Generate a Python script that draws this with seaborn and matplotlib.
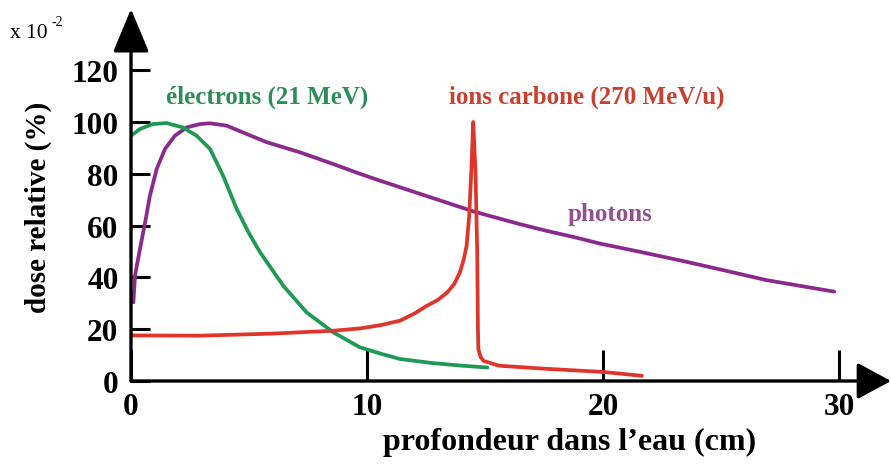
import numpy as np
import pandas as pd
import matplotlib
matplotlib.use("Agg")
import matplotlib.pyplot as plt
import seaborn as sns

# ---- data ----
photon_x = [0.1, 0.17, 0.38, 0.6, 0.8, 1.09, 1.44, 1.86, 2.36, 2.92, 3.35, 4.05, 4.6,
            5.75, 7.16, 8.56, 9.7, 10.5, 11.5, 12.5, 13.5, 14.5, 15.5, 16.5, 17.6,
            18.8, 19.9, 21.5, 23.3, 25.0, 26.9, 28.5, 29.8]
photon_y = [30.4, 40.7, 51, 61.3, 71.5, 81.9, 89.6, 94.7, 97.9, 99.2, 99.5, 98.6, 96.5,
            92.2, 88.3, 83.8, 80, 77.5, 74.5, 71.5, 68.5, 65.5, 63, 60.5, 58,
            55.5, 53, 50, 46.5, 43, 39, 36.5, 34.5]

electron_x = [0, 0.38, 0.93, 1.5, 2.2, 2.78, 3.35, 3.9, 4.48, 5.0, 5.47, 6.45, 7.44,
              8.57, 9.7, 10.6, 11.4, 12.7, 13.9, 15.1]
electron_y = [94.7, 97.3, 99.2, 99.6, 97.9, 94.7, 89.6, 79.3, 66.4, 57, 49.7, 36.8, 26.5,
              18.8, 13, 10.5, 8.5, 7.0, 6.0, 5.2]

carbon_x = [0, 2.92, 6, 8.56, 9.7, 10.6, 11.4, 12.0, 12.53, 13.0, 13.4, 13.7, 13.94,
            14.1, 14.22, 14.33, 14.43, 14.5, 14.6, 14.67, 14.7, 14.72, 14.8, 14.93,
            15.6, 17.6, 19, 20, 21.65]
carbon_y = [17.6, 17.5, 18.3, 19.4, 20.3, 21.6, 23.3, 26, 29, 31.3, 34.2, 37.5, 42,
            47, 52.2, 63.8, 83, 100, 80, 50, 20, 12.4, 9.5, 7.8,
            5.9, 4.7, 4, 3.5, 2]

x_ticks = [0, 10, 20, 30]
y_ticks = [0, 20, 40, 60, 80, 100, 120]

series_names = ["photons", "électrons (21 MeV)", "ions carbone (270 MeV/u)"]
series_colors = ["#8a2a8c", "#1f9a55", "#e0352a"]
text_colors = ["#93508f", "#2e8b5a", "#c8402f"]

df = pd.concat([
    pd.DataFrame({"x": photon_x, "y": photon_y, "s": series_names[0]}),
    pd.DataFrame({"x": electron_x, "y": electron_y, "s": series_names[1]}),
    pd.DataFrame({"x": carbon_x, "y": carbon_y, "s": series_names[2]}),
])

sns.set_theme(style="white")
plt.rcParams["font.family"] = ["Liberation Serif", "DejaVu Serif"]

W, H = 891, 477
fig = plt.figure(figsize=(W / 100, H / 100), dpi=100)
left, bottom = 131, H - 382
ax = fig.add_axes([left / W, bottom / H, (891 - left) / W, (382 - 10) / H])
px_per_x = 23.6
px_per_y = 2.59
ax.set_xlim(0, (891 - left) / px_per_x)
ax.set_ylim(0, (382 - 10) / px_per_y)

for name, col in zip(series_names, series_colors):
    sub = df[df["s"] == name]
    sns.lineplot(data=sub, x="x", y="y", ax=ax, color=col, lw=2.7,
                 sort=False, estimator=None, legend=False)

for sp in ax.spines.values():
    sp.set_visible(False)

ax.annotate("", xy=(0, 1.0), xytext=(0, 0), xycoords="axes fraction",
            arrowprops=dict(arrowstyle="-|>,head_length=0.6,head_width=0.25",
                            mutation_scale=45, lw=2.4, color="black",
                            shrinkA=0, shrinkB=0), annotation_clip=False)
ax.annotate("", xy=(1.0, 0), xytext=(0, 0), xycoords="axes fraction",
            arrowprops=dict(arrowstyle="-|>,head_length=0.5,head_width=0.27",
                            mutation_scale=42, lw=2.4, color="black",
                            shrinkA=0, shrinkB=0), annotation_clip=False)

ax.set_xticks(x_ticks)
ax.set_yticks(y_ticks)
ax.set_xticklabels([str(v) for v in x_ticks])
ax.set_yticklabels([str(v) for v in y_ticks])
ax.tick_params(axis="x", direction="in", length=22, width=2.2, pad=8,
               labelsize=22.5, colors="black", bottom=True)
ax.tick_params(axis="y", direction="in", length=14, width=2.2, pad=9,
               labelsize=22.5, colors="black", left=True)
for lab in ax.get_xticklabels() + ax.get_yticklabels():
    lab.set_fontweight("bold")

ax.set_xlabel("profondeur dans l\u2019eau (cm)", fontsize=23, fontweight="bold",
              color="black")
ax.xaxis.set_label_coords((570 - left) / (891 - left), -46 / (382 - 10))
ax.set_ylabel("dose relative (%)", fontsize=21, fontweight="bold", color="black")
ax.yaxis.set_label_coords(-(131 - 52) / (891 - left), (382 - 207) / (382 - 10))

ax.text(5.75, 110, series_names[1], color=text_colors[1], fontsize=18,
        fontweight="bold", ha="center", va="center")
ax.text(19.3, 110, series_names[2], color=text_colors[2], fontsize=18,
        fontweight="bold", ha="center", va="center")
ax.text(20.3, 64.5, series_names[0], color=text_colors[0], fontsize=18,
        fontweight="bold", ha="center", va="center")

fig.text(10 / W, 1 - 33 / H, "x 10", fontsize=15.5, color="black",
         ha="left", va="center")
fig.text(51 / W, 1 - 23 / H, "-2", fontsize=10, color="black",
         ha="left", va="center")

fig.savefig("out.png", dpi=100, facecolor="white")
